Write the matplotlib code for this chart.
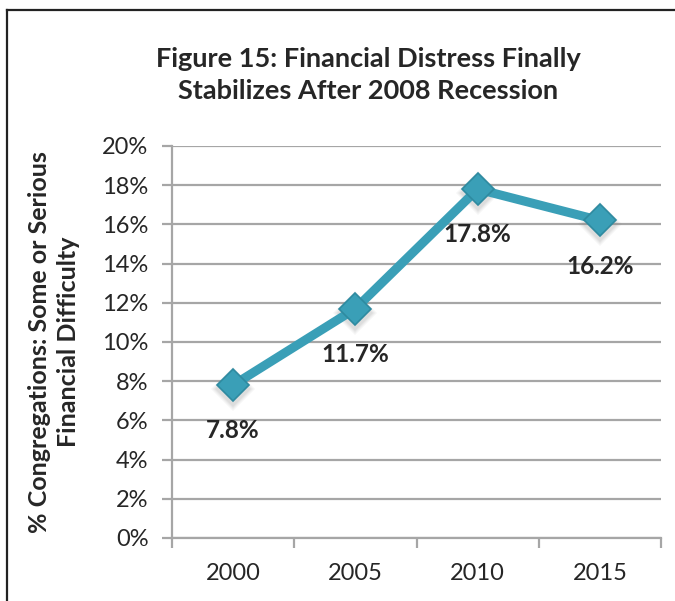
import matplotlib
matplotlib.use("Agg")
import matplotlib.pyplot as plt
from matplotlib.lines import Line2D
from matplotlib.ticker import FixedLocator, FuncFormatter

years = ["2000", "2005", "2010", "2015"]
values = [7.8, 11.7, 17.8, 16.2]
labels = ["7.8%", "11.7%", "17.8%", "16.2%"]
yticks = [0, 2, 4, 6, 8, 10, 12, 14, 16, 18, 20]

plt.rcParams['font.family'] = ['Lato', 'DejaVu Sans']

fig = plt.figure(figsize=(6.75, 6.01), dpi=100)
ax = fig.add_axes([172/675, 1-538/601, (661-172)/675, (538-146)/601])

x = list(range(len(years)))
line_col = '#3A9FB7'
grid_col = '#A6A6A6'
text_col = '#262626'

# soft shadow
for ms, a in [(22, 0.08), (20, 0.1), (18, 0.12)]:
    ax.plot(x, [v - 0.2 for v in values], linestyle='none', marker='D',
            markersize=ms, color='#888888', alpha=a, markeredgewidth=0, zorder=3)
ax.plot(x, values, color=line_col, linewidth=6.5, solid_capstyle='round', zorder=4)
ax.plot(x, values, linestyle='none', marker='D', markersize=16, markerfacecolor=line_col,
        markeredgecolor='#2E8AA0', markeredgewidth=1.2, zorder=5)

for xi, v, lab in zip(x, values, labels):
    ax.annotate(lab, (xi, v), xytext=(0, -33), textcoords='offset points',
                ha='center', va='center', fontsize=17.5, fontweight='bold', color=text_col, zorder=6)

ax.set_xlim(-0.5, 3.5)
ax.set_ylim(0, 20)
ax.yaxis.set_major_locator(FixedLocator(yticks))
ax.yaxis.set_major_formatter(FuncFormatter(lambda v, p: f"{int(v)}%"))
ax.grid(axis='y', color=grid_col, linewidth=1.6, zorder=0)
ax.set_axisbelow(True)

ax.xaxis.set_major_locator(FixedLocator([-0.5, 0.5, 1.5, 2.5, 3.5]))
ax.xaxis.set_major_formatter(FuncFormatter(lambda v, p: ""))
ax.xaxis.set_minor_locator(FixedLocator(x))
ax.set_xticklabels(years, minor=True)
ax.tick_params(axis='x', which='minor', length=0, pad=18, labelsize=17, labelcolor=text_col)
ax.tick_params(axis='x', which='major', length=7, width=1.6, color=grid_col, direction='out')
ax.tick_params(axis='y', which='major', length=7, width=1.6, color=grid_col, direction='out',
               labelsize=17, labelcolor=text_col, pad=10)

for s in ['top', 'right']:
    ax.spines[s].set_visible(False)
for s in ['left', 'bottom']:
    ax.spines[s].set_color(grid_col)
    ax.spines[s].set_linewidth(1.6)

ax.set_ylabel("% Congregations: Some or Serious\nFinancial Difficulty", fontsize=18,
              fontweight='bold', color=text_col, labelpad=16, linespacing=1.3)

fig.text(368/675, 1-75/601, "Figure 15: Financial Distress Finally\nStabilizes After 2008 Recession",
         ha='center', va='center', fontsize=19.5, fontweight='bold', color=text_col, linespacing=1.38)

# border
fig.add_artist(Line2D([7/675, 7/675], [0, 1-10/601], transform=fig.transFigure, color='#222222', linewidth=1.6))
fig.add_artist(Line2D([7/675, 1.0], [1-10/601, 1-10/601], transform=fig.transFigure, color='#222222', linewidth=1.6))

fig.savefig("out.png", dpi=100)
